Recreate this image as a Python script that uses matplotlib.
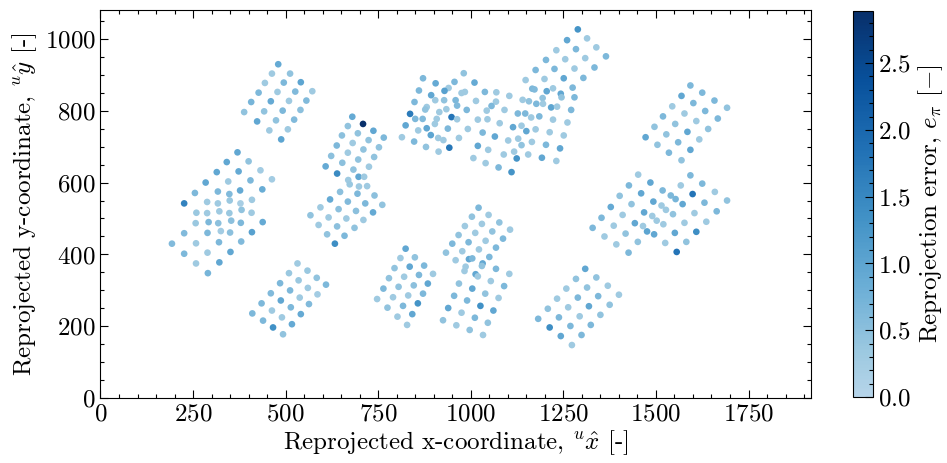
import matplotlib
matplotlib.use("Agg")
import matplotlib.pyplot as plt
import numpy as np
from matplotlib.colors import LinearSegmentedColormap
from matplotlib.ticker import MultipleLocator

plt.rcParams['font.family'] = ['cmr10', 'DejaVu Serif']
plt.rcParams['mathtext.fontset'] = 'cm'
plt.rcParams['axes.formatter.use_mathtext'] = True
plt.rcParams['font.size'] = 18

# reprojected corner points per checkerboard view: x, y, reprojection error
board_left = np.array([
    [370, 684, 0.95], [341, 657, 0.95], [400, 659, 0.45], [314, 629, 0.95], [373, 631, 0.9],
    [432, 634, 0.25], [284, 600, 0.95], [345, 603, 0.3], [405, 606, 0.65], [463, 609, 0.25],
    [255, 571, 0.65], [317, 575, 0.65], [348, 568, 0.6], [377, 578, 0.9], [437, 581, 0.85],
    [226, 542, 1.6], [288, 546, 0.3], [317, 542, 0.3], [349, 550, 0.35], [378, 542, 0.2],
    [409, 552, 0.3], [259, 516, 0.35], [288, 515, 0.3], [321, 520, 0.3], [348, 515, 0.35],
    [381, 524, 0.45], [408, 516, 0.3], [257, 487, 0.35], [292, 490, 0.65], [318, 487, 0.5],
    [353, 494, 0.5], [379, 488, 0.65], [438, 490, 0.9], [226, 459, 0.6], [289, 460, 0.65],
    [325, 465, 0.25], [350, 461, 0.5], [409, 462, 1.05], [193, 430, 0.6], [258, 431, 0.3],
    [320, 434, 0.65], [380, 436, 0.6], [226, 402, 0.65], [289, 405, 0.3], [351, 407, 0.95],
    [258, 375, 0.3], [321, 378, 0.95], [290, 348, 0.7],
])

board_top_left = np.array([
    [480, 929, 0.9], [463, 903, 0.3], [512, 903, 0.45], [444, 877, 0.3], [495, 878, 0.65],
    [541, 879, 1.0], [427, 850, 0.65], [478, 852, 0.3], [526, 853, 0.6], [572, 854, 0.3],
    [407, 824, 0.7], [460, 826, 0.9], [509, 827, 0.3], [556, 828, 0.6], [388, 796, 0.45],
    [442, 798, 0.45], [492, 800, 0.65], [540, 802, 0.5], [423, 770, 0.95], [474, 773, 0.45],
    [523, 775, 0.6], [456, 745, 0.3], [506, 748, 0.3], [488, 720, 1.0],
])

board_bottom_left = np.array([
    [532, 375, 0.3], [559, 355, 0.35], [509, 348, 0.35], [584, 335, 0.45], [535, 328, 0.35],
    [609, 316, 0.65], [485, 320, 0.65], [560, 307, 0.3], [512, 300, 0.65], [586, 289, 0.25],
    [460, 292, 0.6], [538, 280, 0.3], [487, 272, 0.95], [563, 262, 0.6], [435, 264, 0.65],
    [514, 253, 0.65], [463, 244, 0.3], [541, 234, 0.9], [410, 236, 0.65], [490, 225, 0.3],
    [439, 216, 0.65], [517, 206, 0.9], [466, 197, 1.35], [493, 178, 0.45],
])

board_centre_left = np.array([
    [680, 783, 0.9], [709, 763, 2.89], [668, 757, 0.45], [737, 744, 0.95], [695, 737, 0.45],
    [765, 725, 0.65], [652, 731, 0.5], [724, 718, 0.45], [681, 710, 0.3], [752, 698, 0.45],
    [638, 703, 0.65], [710, 692, 0.45], [668, 683, 0.3], [739, 671, 0.45], [623, 674, 0.5],
    [696, 664, 0.45], [653, 655, 0.5], [725, 644, 0.3], [608, 645, 0.9], [683, 636, 0.45],
    [639, 625, 1.45], [697, 616, 0.95], [712, 616, 0.3], [669, 607, 0.3], [673, 595, 0.35],
    [698, 589, 0.3], [720, 590, 0.3], [647, 574, 0.5], [694, 569, 0.65], [740, 564, 0.5],
    [620, 553, 0.9], [668, 547, 0.6], [715, 542, 0.65], [761, 538, 0.45], [594, 531, 0.3],
    [643, 526, 0.5], [690, 521, 0.5], [736, 517, 0.9], [567, 509, 0.45], [616, 503, 0.3],
    [664, 500, 0.3], [710, 496, 0.3], [589, 482, 0.3], [639, 478, 0.5], [686, 474, 0.45],
    [612, 456, 0.45], [659, 452, 0.65], [633, 430, 1.4],
])

board_top_centre = np.array([
    [871, 890, 0.65], [981, 904, 0.45], [905, 876, 0.9], [956, 880, 0.65], [1010, 878, 0.9],
    [860, 856, 0.65], [940, 863, 0.3], [929, 855, 1.05], [975, 849, 0.3], [984, 852, 0.3],
    [1038, 852, 0.65], [893, 843, 0.95], [904, 829, 0.3], [928, 829, 0.45], [959, 829, 0.65],
    [1014, 827, 0.3], [848, 824, 0.65], [881, 810, 0.3], [877, 803, 0.45], [934, 804, 0.3],
    [963, 814, 0.6], [989, 802, 0.65], [1043, 800, 0.3], [836, 791, 1.7], [915, 796, 0.3],
    [948, 782, 1.8], [850, 777, 0.65], [870, 777, 0.6], [908, 777, 0.3], [963, 776, 0.3],
    [1019, 775, 0.3], [1045, 776, 0.3], [824, 759, 0.95], [903, 763, 0.3], [881, 751, 0.95],
    [938, 750, 0.65], [992, 749, 0.3], [858, 745, 0.3], [1032, 739, 0.65], [892, 732, 1.0],
    [814, 726, 0.3], [912, 724, 0.3], [926, 718, 0.3], [968, 724, 0.3], [847, 714, 0.65],
    [879, 699, 0.45], [942, 697, 1.75], [1019, 702, 0.95], [913, 686, 0.3], [1047, 691, 0.3],
    [1007, 668, 0.3],
])

board_top_right = np.array([
    [1289, 1026, 1.3], [1314, 1001, 0.3], [1260, 996, 0.95], [1339, 976, 0.3], [1231, 968, 0.3],
    [1284, 971, 0.65], [1365, 951, 0.65], [1203, 941, 0.65], [1255, 943, 0.3], [1309, 946, 0.3],
    [1175, 913, 0.65], [1226, 916, 0.65], [1280, 917, 0.3], [1334, 920, 0.65], [1148, 885, 0.3],
    [1199, 888, 0.3], [1251, 890, 0.95], [1304, 891, 0.65], [1069, 851, 0.3], [1166, 861, 0.65],
    [1172, 859, 0.6], [1205, 854, 0.95], [1222, 862, 0.3], [1275, 864, 0.65], [1104, 841, 0.3],
    [1068, 825, 0.3], [1140, 830, 0.3], [1157, 826, 0.45], [1194, 835, 0.45], [1243, 847, 0.95],
    [1245, 837, 0.45], [1280, 837, 0.65], [1056, 813, 0.65], [1177, 819, 0.65], [1195, 819, 0.3],
    [1217, 809, 1.0], [1233, 811, 0.3], [1091, 802, 0.3], [1271, 802, 0.65], [1127, 792, 0.65],
    [1147, 792, 0.65], [1163, 781, 0.3], [1185, 784, 0.65], [1078, 765, 0.3], [1114, 754, 0.95],
    [1137, 758, 0.3], [1150, 743, 0.95], [1175, 748, 0.3], [1065, 728, 0.95], [1101, 717, 0.3],
    [1128, 722, 0.3], [1137, 704, 0.45], [1165, 713, 0.3], [1089, 678, 0.3], [1117, 686, 0.3],
    [1124, 667, 1.3], [1155, 678, 0.3], [1040, 654, 0.3], [1075, 642, 0.65], [1110, 629, 1.3],
    [1213, 740, 0.3], [1203, 705, 0.65], [1192, 669, 0.95], [1231, 660, 0.3], [1241, 695, 0.95],
    [1251, 731, 0.3], [1261, 767, 0.3], [1222, 775, 0.3],
])

board_bottom_centre_a = np.array([
    [824, 416, 0.95], [810, 390, 0.3], [849, 392, 0.45], [794, 362, 0.45], [835, 366, 0.95],
    [874, 369, 0.65], [779, 334, 0.45], [820, 338, 0.3], [860, 343, 0.65], [898, 346, 0.3],
    [764, 305, 0.65], [805, 310, 0.45], [846, 314, 0.5], [884, 319, 0.95], [747, 276, 0.3],
    [790, 281, 0.3], [831, 286, 0.3], [871, 291, 0.65], [775, 252, 0.45], [817, 257, 0.65],
    [857, 264, 1.3], [802, 227, 0.3], [842, 234, 0.95], [828, 204, 0.3],
])

board_bottom_centre_b = np.array([
    [1021, 530, 0.65], [1003, 505, 0.45], [1048, 510, 0.3], [984, 479, 0.3], [1030, 485, 0.3],
    [1077, 489, 0.45], [967, 454, 0.45], [1012, 460, 0.3], [1058, 464, 0.45], [1106, 469, 0.3],
    [950, 430, 0.65], [994, 434, 0.65], [1040, 438, 0.3], [1087, 444, 0.65], [933, 405, 0.45],
    [977, 409, 0.3], [1022, 414, 0.3], [1068, 419, 0.65], [959, 384, 0.3], [995, 387, 0.95],
    [1004, 389, 0.65], [1032, 375, 0.95], [1030, 368, 0.45], [1050, 393, 0.65], [986, 366, 0.3],
    [983, 354, 0.3], [1013, 345, 0.95], [1019, 339, 0.3], [1068, 360, 0.65], [1104, 346, 0.3],
    [968, 319, 0.45], [1004, 305, 0.95], [1054, 326, 0.3], [1090, 312, 0.65], [955, 285, 0.65],
    [990, 272, 0.65], [1039, 291, 0.45], [1075, 279, 0.3], [939, 251, 0.95], [975, 238, 0.3],
    [1026, 257, 1.35], [1061, 244, 0.95], [925, 217, 0.45], [961, 203, 0.3], [1011, 224, 0.65],
    [1046, 210, 0.45], [997, 190, 0.45], [1033, 176, 0.3],
])

board_mid_right = np.array([
    [1452, 622, 0.3], [1593, 620, 0.65], [1485, 600, 0.95], [1427, 592, 0.65], [1567, 592, 0.3],
    [1625, 597, 0.65], [1518, 578, 0.65], [1460, 570, 0.95], [1540, 564, 0.65], [1553, 554, 0.7],
    [1599, 568, 1.8], [1659, 574, 0.3], [1402, 563, 0.45], [1493, 547, 0.95], [1434, 540, 0.45],
    [1515, 536, 0.3], [1572, 540, 0.95], [1631, 544, 0.65], [1378, 532, 0.9], [1527, 524, 0.3],
    [1468, 517, 0.95], [1546, 512, 0.45], [1604, 515, 0.3], [1664, 520, 0.65], [1410, 510, 0.3],
    [1490, 507, 0.3], [1502, 494, 0.3], [1353, 502, 0.65], [1443, 487, 0.95], [1520, 484, 0.3],
    [1577, 488, 0.3], [1636, 491, 0.3], [1386, 480, 0.3], [1465, 479, 0.3], [1329, 474, 0.65],
    [1476, 464, 1.0], [1495, 456, 0.95], [1418, 458, 0.45], [1551, 460, 0.95], [1609, 463, 1.4],
    [1361, 450, 0.3], [1451, 435, 0.45], [1525, 432, 0.3], [1582, 435, 0.45], [1393, 428, 0.3],
    [1426, 405, 0.65], [1556, 407, 1.8], [1692, 550, 0.45],
])

board_far_right = np.array([
    [1593, 870, 0.65], [1569, 841, 0.95], [1625, 850, 0.65], [1544, 812, 0.3], [1601, 821, 0.65],
    [1658, 828, 0.65], [1519, 784, 0.65], [1577, 792, 0.3], [1633, 799, 0.65], [1692, 808, 0.45],
    [1496, 755, 0.45], [1552, 763, 0.45], [1609, 771, 0.3], [1667, 778, 0.65], [1472, 726, 0.95],
    [1528, 734, 0.45], [1585, 741, 0.95], [1641, 749, 0.45], [1504, 705, 0.45], [1560, 712, 0.65],
    [1617, 720, 0.3], [1535, 683, 0.65], [1593, 691, 0.95], [1569, 662, 0.45],
])

board_bottom_right = np.array([
    [1309, 360, 0.95], [1284, 332, 0.45], [1339, 336, 0.45], [1258, 305, 0.3], [1314, 308, 0.45],
    [1370, 313, 0.3], [1233, 277, 0.3], [1289, 280, 0.65], [1344, 284, 0.65], [1400, 288, 0.3],
    [1208, 249, 0.45], [1263, 253, 0.3], [1319, 256, 0.95], [1375, 260, 0.45], [1182, 221, 0.65],
    [1238, 225, 0.65], [1294, 228, 0.3], [1350, 232, 0.45], [1213, 197, 1.4], [1269, 201, 0.65],
    [1324, 204, 0.65], [1243, 173, 0.95], [1299, 176, 0.65], [1273, 148, 0.3],
])

boards = [board_left, board_top_left, board_bottom_left, board_centre_left, board_top_centre,
          board_top_right, board_bottom_centre_a, board_bottom_centre_b, board_mid_right,
          board_far_right, board_bottom_right]
pts = np.vstack(boards)

cmap = LinearSegmentedColormap.from_list('blues_t', plt.cm.Blues(np.linspace(0.3, 1.0, 256)))

fig = plt.figure(figsize=(9.47, 4.63), dpi=100)
ax = fig.add_axes([0.1061, 0.1398, 0.7508, 0.8387])
cax = fig.add_axes([0.9008, 0.1425, 0.0211, 0.8337])

sc = ax.scatter(pts[:, 0], pts[:, 1], c=pts[:, 2], cmap=cmap, vmin=0, vmax=pts[:, 2].max(),
                s=23, linewidths=0)

ax.set_xlim(0, 1920)
ax.set_ylim(0, 1080)
ax.xaxis.set_major_locator(MultipleLocator(250))
ax.xaxis.set_minor_locator(MultipleLocator(50))
ax.yaxis.set_major_locator(MultipleLocator(200))
ax.yaxis.set_minor_locator(MultipleLocator(50))
ax.tick_params(which='both', direction='in', top=True, right=True)
ax.tick_params(which='major', length=6, width=0.8)
ax.tick_params(which='minor', length=3, width=0.8)
ax.set_xlabel(r'Reprojected x-coordinate, $^{u}\hat{x}$ [-]', labelpad=2)
ax.set_ylabel(r'Reprojected y-coordinate, $^{u}\hat{y}$ [-]', labelpad=4)

cb = fig.colorbar(sc, cax=cax)
cb.set_ticks([0, 0.5, 1.0, 1.5, 2.0, 2.5])
cb.ax.yaxis.set_minor_locator(MultipleLocator(0.1))
cb.ax.tick_params(which='both', direction='in')
cb.ax.tick_params(which='major', length=6, width=0.8)
cb.ax.tick_params(which='minor', length=3, width=0.8)
cb.set_label(r'Reprojection error, $e_{\pi}$ $[-]$')

fig.savefig('out.png', dpi=100)
